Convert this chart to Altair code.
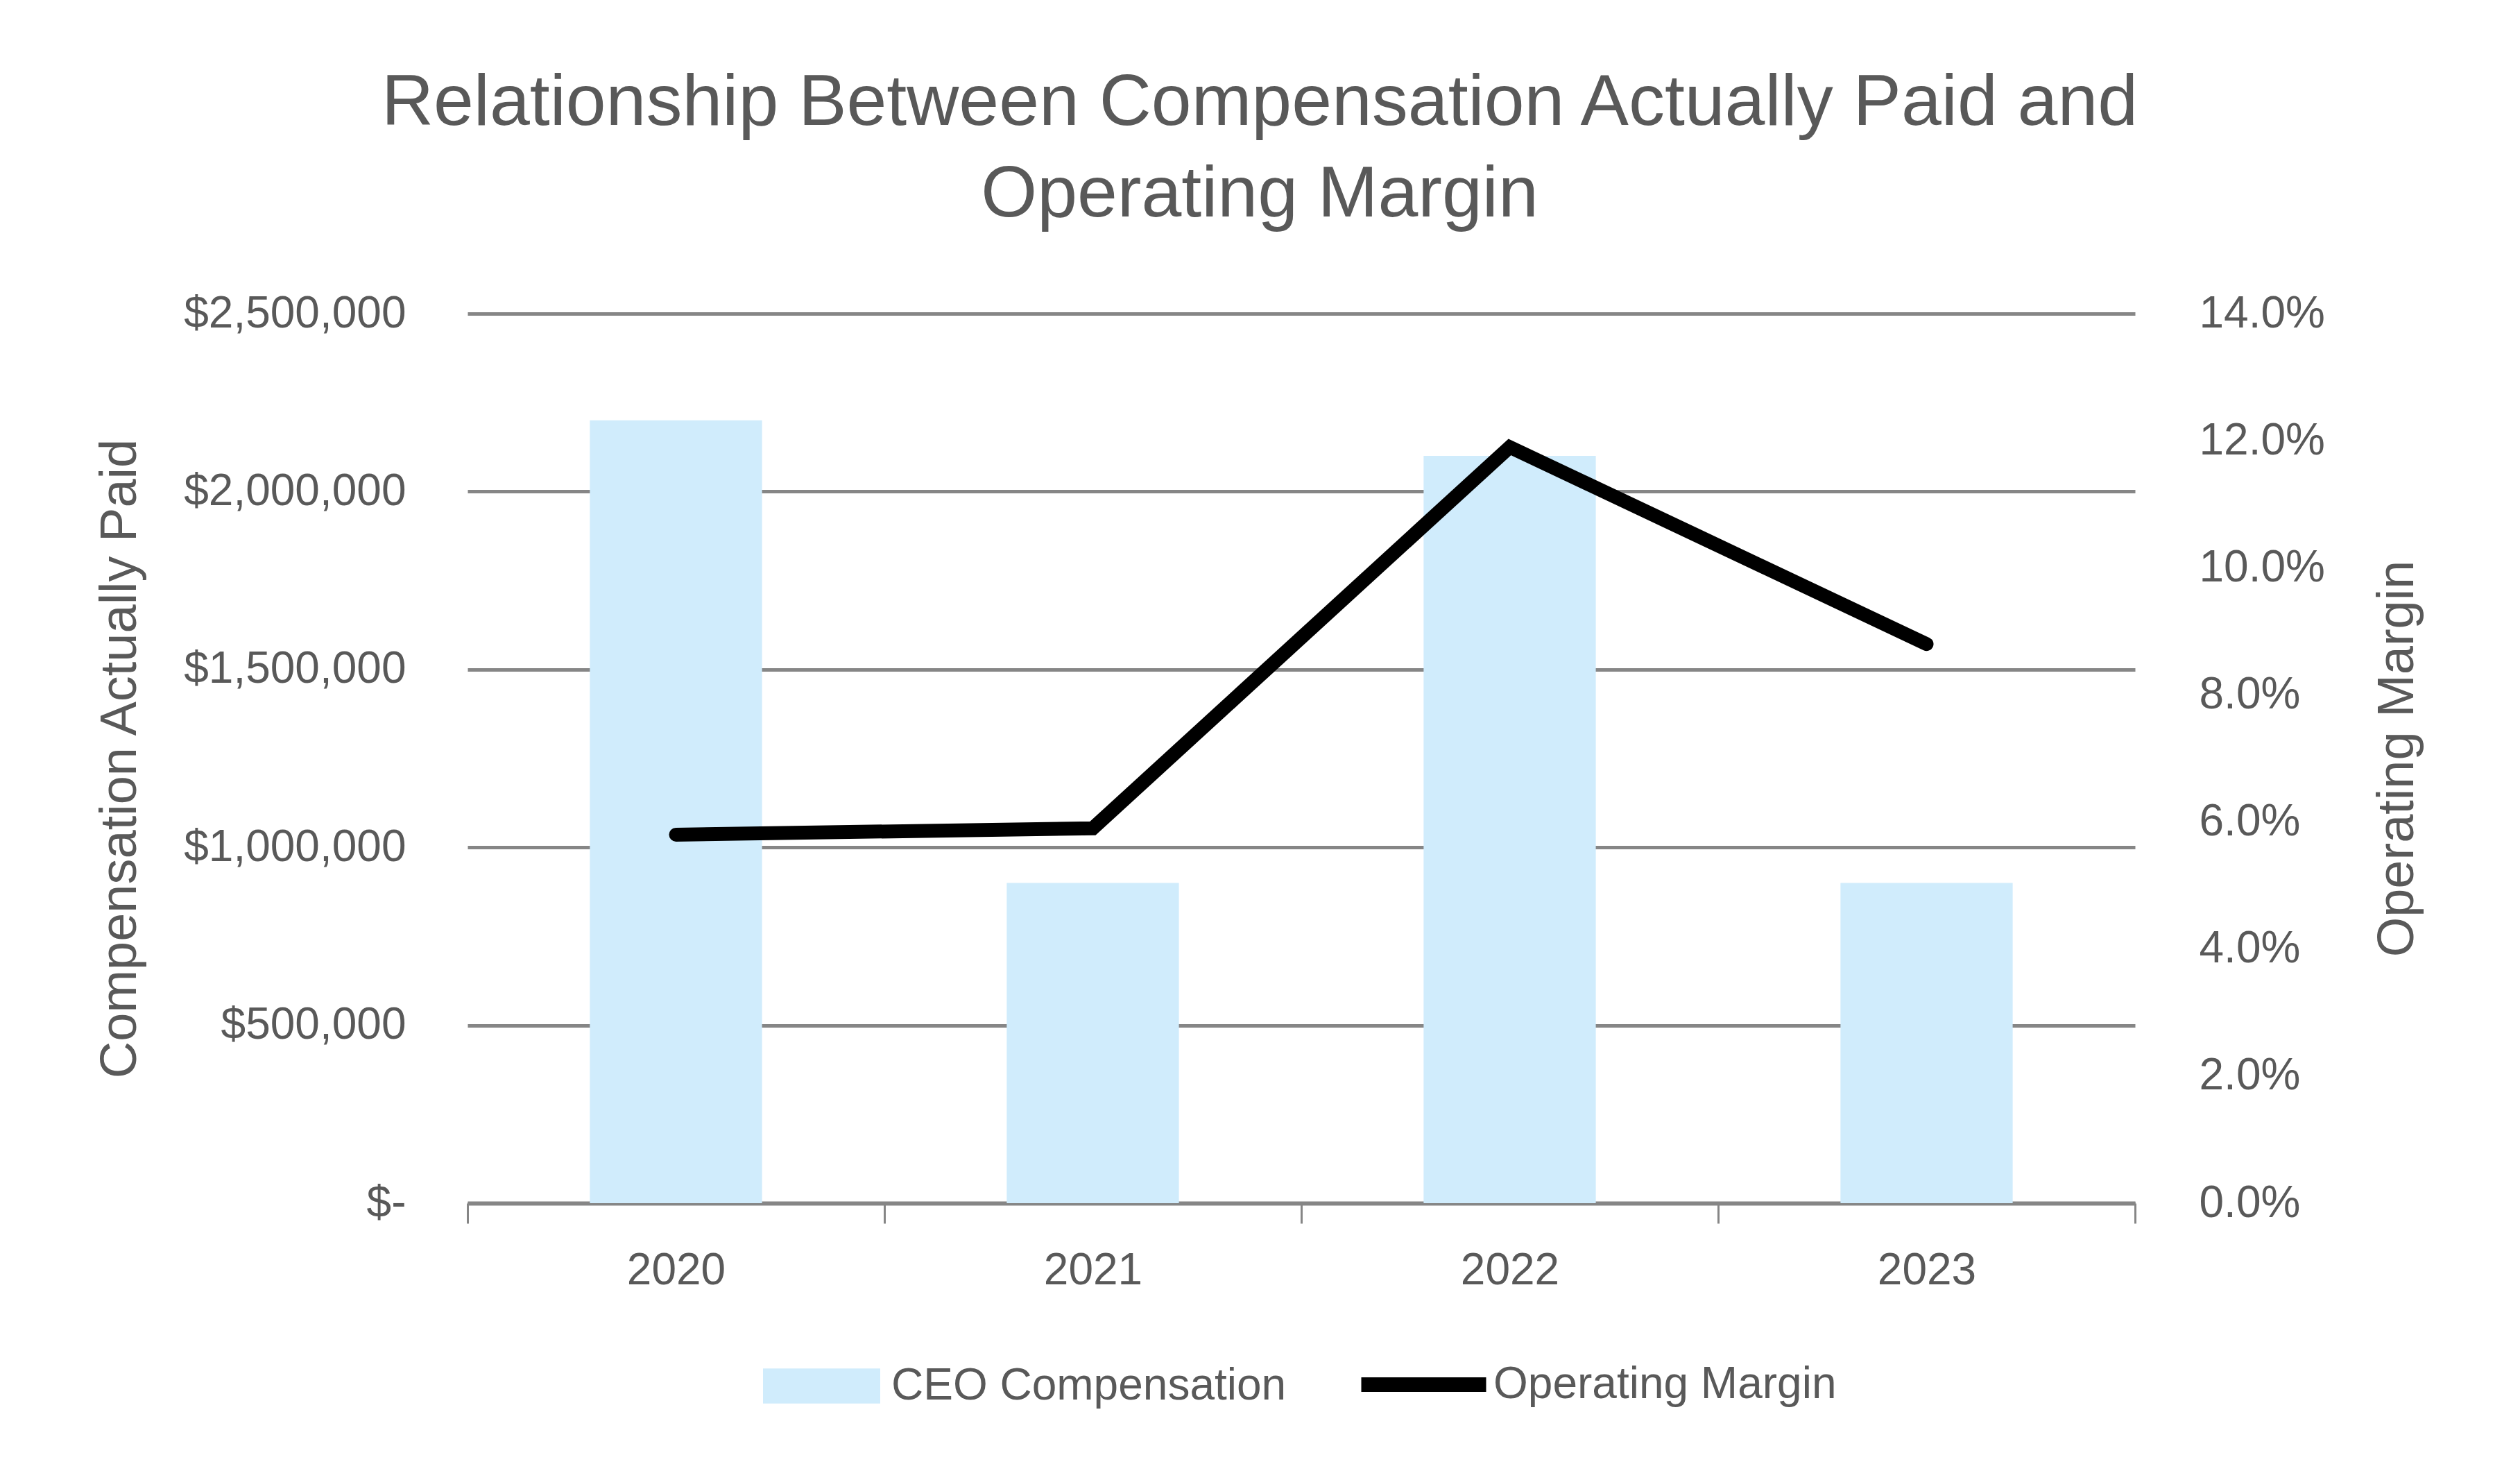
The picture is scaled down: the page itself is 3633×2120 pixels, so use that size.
import altair as alt
import pandas as pd

# ---- data ----
years = ["2020", "2021", "2022", "2023"]
ceo_comp = [2200000, 900000, 2100000, 900000]
op_margin = [5.8, 5.9, 11.9, 8.8]
bar_series = ["CEO Compensation"] * 4
line_series = ["Operating Margin"] * 4
left_ticks = [0, 500000, 1000000, 1500000, 2000000, 2500000]
right_ticks = [0, 2, 4, 6, 8, 10, 12, 14]
title_lines = ["Relationship Between Compensation Actually Paid and", "Operating Margin"]

df = pd.DataFrame({
    "year": years,
    "comp": ceo_comp,
    "margin": op_margin,
    "bar_series": bar_series,
    "line_series": line_series,
})

FONT = "Liberation Sans"
TEXT = "#595959"
GRID = "#868686"
BAR = "#D0ECFC"
W, H = 2404, 1282
LBL = 64

x_enc = alt.X(
    "year:N",
    sort=years,
    scale=alt.Scale(paddingInner=0, paddingOuter=0),
    axis=alt.Axis(
        title=None, labelAngle=0, domain=True, domainColor=GRID, domainWidth=6,
        ticks=True, tickBand="extent", tickSize=29, tickWidth=3, tickColor=GRID,
        labelFontSize=LBL, labelColor=TEXT, labelFont=FONT, labelPadding=87,
        labelBaseline="alphabetic", grid=False, labelLimit=0,
    ),
)

bars = alt.Chart(df).mark_bar(width={"band": 0.413}).encode(
    x=x_enc,
    y=alt.Y(
        "comp:Q",
        scale=alt.Scale(domain=[0, 2500000], nice=False),
        axis=alt.Axis(
            values=left_ticks,
            labelExpr="datum.value == 0 ? '$-\u00a0' : '$' + format(datum.value, ',')",
            labelFontSize=LBL, labelColor=TEXT, labelFont=FONT, labelPadding=89,
            labelLimit=0,
            domain=False, ticks=False, tickSize=0,
            grid=True, gridColor=GRID, gridWidth=5,
            title="Compensation Actually Paid", titleFontSize=74, titleColor=TEXT,
            titleFont=FONT, titleFontWeight="normal", titleAngle=-90, titleLimit=0,
            titleX=-479, titleY=H / 2, titleAlign="center", titleBaseline="alphabetic",
        ),
    ),
    fill=alt.Fill(
        "bar_series:N",
        scale=alt.Scale(domain=["CEO Compensation"], range=[BAR]),
        legend=alt.Legend(
            orient="none", legendX=426, legendY=1461, title=None, padding=0,
            symbolType="M-1,-0.3H1V0.3H-1Z", symbolSize=28561, symbolStrokeWidth=0,
            symbolOpacity=1, labelLimit=0,
            labelFontSize=LBL, labelFont=FONT, labelColor=TEXT, labelOffset=16,
        ),
    ),
)

line = alt.Chart(df).mark_line(strokeWidth=20, strokeCap="round", strokeJoin="miter").encode(
    x=alt.X("year:N", sort=years),
    y=alt.Y(
        "margin:Q",
        scale=alt.Scale(domain=[0, 14], nice=False),
        axis=alt.Axis(
            orient="right", values=right_ticks,
            labelExpr="format(datum.value, '.1f') + '%'",
            labelFontSize=LBL, labelColor=TEXT, labelFont=FONT, labelPadding=92,
            labelAlign="left", labelLimit=0,
            domain=False, ticks=False, tickSize=0, grid=False,
            title="Operating Margin", titleFontSize=74, titleColor=TEXT,
            titleFont=FONT, titleFontWeight="normal", titleAngle=-90, titleLimit=0,
            titleX=400, titleY=H / 2, titleAlign="center", titleBaseline="alphabetic",
        ),
    ),
    stroke=alt.Stroke(
        "line_series:N",
        scale=alt.Scale(domain=["Operating Margin"], range=["#000000"]),
        legend=alt.Legend(
            orient="none", legendX=1278, legendY=1443, title=None, padding=0,
            symbolType="stroke", symbolSize=32400, symbolStrokeWidth=21,
            labelLimit=0,
            labelFontSize=LBL, labelFont=FONT, labelColor=TEXT, labelOffset=0,
        ),
    ),
)

chart = (
    alt.layer(bars, line)
    .resolve_scale(y="independent")
    .properties(
        width=W,
        height=H,
        title=alt.Title(
            text=title_lines, fontSize=104, font=FONT, color=TEXT,
            fontWeight="normal", anchor="middle", dx=-60, lineHeight=132, offset=86,
            limit=0,
        ),
        autosize=alt.AutoSizeParams(type="none"),
        padding={"left": 666, "top": 444, "right": 547, "bottom": 378},
        background="white",
    )
    .configure_view(stroke=None)
)

chart.save("out.html", embed_options={"renderer": "svg", "actions": False})
